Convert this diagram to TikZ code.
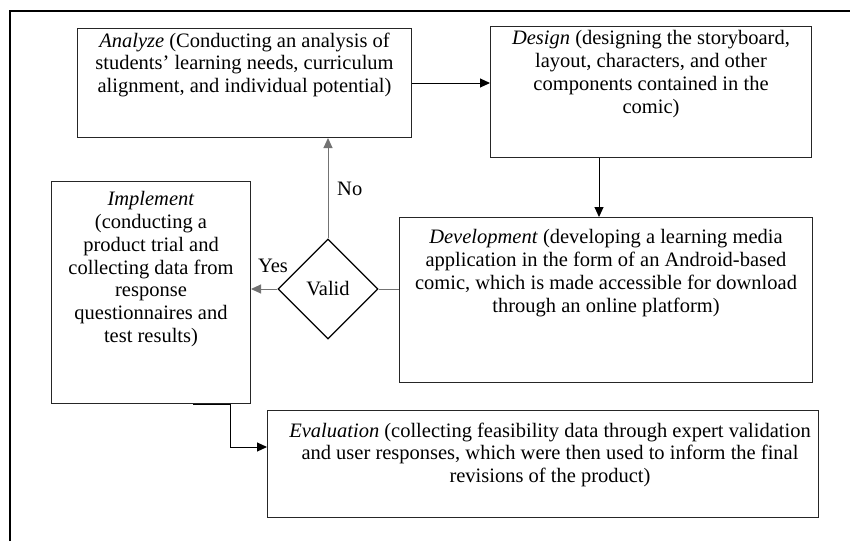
\documentclass[tikz,border=0pt]{standalone}
\usepackage{fontspec}
\setmainfont{Liberation Serif}
\usetikzlibrary{arrows.meta,shapes.geometric}

\tikzset{
  box/.style={draw=black!85, line width=1pt, anchor=north west, inner sep=0pt},
  boxtext/.style={anchor=north, align=center, inner sep=0pt, font=\fontsize{20.5}{22.7}\selectfont},
  lbl/.style={inner sep=0pt, font=\fontsize{20.5}{22.7}\selectfont},
  link/.style={draw=black!55, line width=1pt},
  arr/.style={link, -{Triangle[length=10pt,width=9pt]}},
}

\begin{document}
\begin{tikzpicture}[x=1pt, y=-1pt]
    \useasboundingbox (0,0) rectangle (850,541);

    % Frame
    \draw[line width=2pt] (10,541) -- (10,11) -- (850,11);

    % Boxes
    \node[box, minimum width=334, minimum height=109] (analyze) at (77,28) {};
    \node[box, minimum width=321, minimum height=131] (design) at (490,26) {};
    \node[box, minimum width=199, minimum height=222] (implement) at (51,181) {};
    \node[box, minimum width=413, minimum height=165] (development) at (399,217) {};
    \node[box, minimum width=551, minimum height=107] (evaluation) at (267,410) {};
    \node[draw, diamond, line width=1.3pt, minimum width=100, minimum height=100,
          inner sep=0pt, font=\fontsize{20.5}{22.7}\selectfont] (valid) at (328,289) {Valid};

    % Texts
    \node[boxtext] (analyzetext) at ([yshift=-4.5pt]analyze.north)
        {\textit{Analyze} (Conducting an analysis of\\
         students' learning needs, curriculum\\
         alignment, and individual potential)};
    \node[boxtext] (designtext) at ([yshift=-4.5pt]design.north)
        {\textit{Design} (designing the storyboard,\\
         layout, characters, and other\\
         components contained in the\\
         comic)};
    \node[boxtext] (implementtext) at ([yshift=-10.5pt]implement.north)
        {\textit{Implement}\\
         (conducting a\\
         product trial and\\
         collecting data from\\
         response\\
         questionnaires and\\
         test results)};
    \node[boxtext] (developmenttext) at ([yshift=-12.5pt]development.north)
        {\textit{Development} (developing a learning media\\
         application in the form of an Android-based\\
         comic, which is made accessible for download\\
         through an online platform)};
    \node[boxtext] (evaluationtext) at ([xshift=7pt, yshift=-12.5pt]evaluation.north)
        {\textit{Evaluation} (collecting feasibility data through expert validation\\
         and user responses, which were then used to inform the final\\
         revisions of the product)};

    % Labels
    \node[lbl, anchor=base] (yes) at (273,272) {Yes};
    \node[lbl, anchor=base west] (no) at (337,195) {No};

    % Connectors
    \draw[arr, draw=black] (analyze.east) -- (analyze.east -| design.west);
    \draw[arr, draw=black] ([xshift=109pt]design.south west)
        -- ([xshift=109pt]design.south west |- development.north);
    \draw[arr] (valid.north) -- (valid.north |- analyze.south);
    \draw[arr] (valid.west) -- (valid.west -| implement.east);
    \draw[link] (valid.east) -- (valid.east -| development.west);

    \coordinate (bend) at (230,447);
    \draw[arr, draw=black] ([xshift=142pt]implement.south west) -| (bend)
        -- (bend -| evaluation.west);
\end{tikzpicture}
\end{document}
